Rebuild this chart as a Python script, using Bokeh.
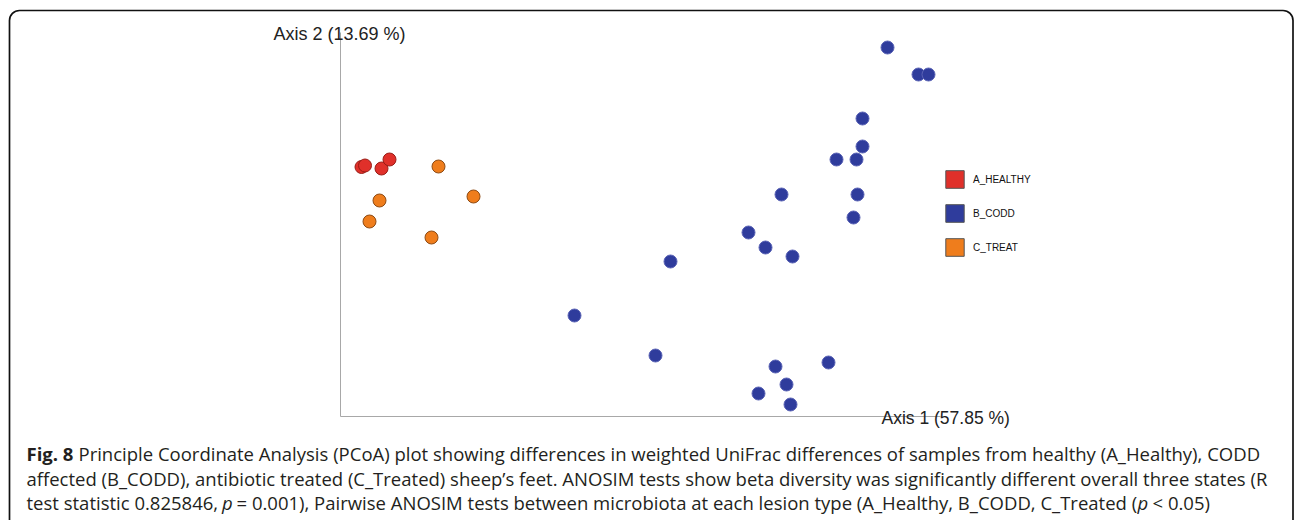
from bokeh.plotting import figure
from bokeh.models import (Range1d, LinearAxis, FixedTicker, Label, BoxAnnotation,
                          Legend, LegendItem)
from bokeh.embed import file_html
from bokeh.resources import INLINE

# ---------------- data (PCoA coordinates) ----------------
groups = ["A_HEALTHY", "B_CODD", "C_TREAT"]
fill_colors = ["#e0302a", "#2f3c9c", "#ef7d1c"]
edge_colors = ["#9a1c16", "#5a63b5", "#8e4a12"]

healthy_ax1 = [-0.279, -0.2755, -0.259, -0.251]
healthy_ax2 = [0.0635, 0.065, 0.062, 0.071]

codd_ax1 = [0.247, 0.278, 0.288, 0.222, 0.222, 0.196, 0.216, 0.141, 0.217, 0.213,
            0.108, 0.125, 0.152, 0.030, -0.066, 0.015, 0.188, 0.135, 0.146, 0.118, 0.150]
codd_ax2 = [0.183, 0.156, 0.156, 0.112, 0.084, 0.071, 0.071, 0.036, 0.036, 0.013,
            -0.002, -0.017, -0.026, -0.031, -0.085, -0.125, -0.132, -0.136, -0.154, -0.163, -0.174]

treat_ax1 = [-0.202, -0.167, -0.261, -0.271, -0.209]
treat_ax2 = [0.064, 0.034, 0.030, 0.009, -0.007]

axis1_label = "Axis 1 (57.85 %)"
axis2_label = "Axis 2 (13.69 %)"

caption_bold = "Fig. 8"
caption_line1 = "Principle Coordinate Analysis (PCoA) plot showing differences in weighted UniFrac differences of samples from healthy (A_Healthy), CODD"
caption_line2 = "affected (B_CODD), antibiotic treated (C_Treated) sheep\u2019s feet. ANOSIM tests show beta diversity was significantly different overall three states (R"
caption_line3 = ["test statistic 0.825846,", "p", "= 0.001), Pairwise ANOSIM tests between microbiota at each lesion type (A_Healthy, B_CODD, C_Treated (", "p", "< 0.05)"]

# ---------------- layout helpers (pixel -> data) ----------------
W, H = 1295, 520
X0, Y0, SCALE = 640.0, 230.0, 1000.0
NAN = float("nan")


def dx(px):
    return (px - X0) / SCALE


def dy(py):
    return (Y0 - py) / SCALE


p = figure(width=W, height=H,
           x_range=Range1d(dx(0), dx(W)), y_range=Range1d(dy(H), dy(0)),
           output_backend="svg", toolbar_location=None,
           x_axis_location=None, y_axis_location=None,
           min_border=0, outline_line_color=None)
p.grid.grid_line_color = None
p.background_fill_color = "white"
p.border_fill_color = "white"

# outer rounded frame
p.add_layout(BoxAnnotation(left=dx(9), right=dx(1292.5), top=dy(10), bottom=dy(560),
                           fill_color=None, fill_alpha=0, line_color="#111111",
                           line_alpha=1, line_width=1.7,
                           border_radius=10, level="overlay"))

# axes (lines only)
ax_left = LinearAxis(fixed_location=dx(340), bounds=(dy(415.5), dy(32)),
                     ticker=FixedTicker(ticks=[]), axis_line_color="#a8a8a8",
                     axis_line_width=1, major_tick_line_color=None,
                     minor_tick_line_color=None)
ax_bottom = LinearAxis(fixed_location=dy(415.5), bounds=(dx(340), dx(940)),
                       ticker=FixedTicker(ticks=[]), axis_line_color="#a8a8a8",
                       axis_line_width=1, major_tick_line_color=None,
                       minor_tick_line_color=None)
p.add_layout(ax_left, "left")
p.add_layout(ax_bottom, "below")

# points
series = [(healthy_ax1, healthy_ax2), (codd_ax1, codd_ax2), (treat_ax1, treat_ax2)]
for (xs, ys), fc, ec in zip(series, fill_colors, edge_colors):
    p.scatter(xs, ys, size=13, fill_color=fc, line_color=ec, line_width=1)

# legend (square swatches; quads hold no drawable data, only their style)
items = []
for g, fc in zip(groups, fill_colors):
    r = p.quad(left=[NAN], right=[NAN], top=[NAN], bottom=[NAN], fill_color=fc,
               line_color="#555555", line_width=1)
    items.append(LegendItem(label=g, renderers=[r]))
legend = Legend(items=items, location=(943, 262), padding=0, margin=0, spacing=12,
                glyph_width=23, glyph_height=22, label_standoff=7, label_height=22,
                border_line_color=None, background_fill_alpha=0,
                label_text_font="Liberation Sans", label_text_font_size="10px",
                label_text_color="#111111")
p.add_layout(legend)

# axis titles
p.add_layout(Label(x=dx(273), y=dy(33), text=axis2_label, text_baseline="middle",
                   text_font="Liberation Sans", text_font_size="18px",
                   text_color="#222222"))
p.add_layout(Label(x=dx(881), y=dy(417), text=axis1_label, text_baseline="middle",
                   text_font="Liberation Sans", text_font_size="17.5px",
                   text_color="#222222"))

# caption
CF = "Open Sans"
CS = "18.5px"
CC = "#231f20"
p.add_layout(Label(x=dx(26), y=dy(453), text=caption_bold, text_baseline="middle",
                   text_font=CF, text_font_size=CS, text_font_style="bold", text_color=CC))
p.add_layout(Label(x=dx(78), y=dy(453), text=caption_line1, text_baseline="middle",
                   text_font=CF, text_font_size=CS, text_color=CC))
p.add_layout(Label(x=dx(26), y=dy(478), text=caption_line2, text_baseline="middle",
                   text_font=CF, text_font_size=CS, text_color=CC))
seg_x = [26, 221.5, 236, 1137, 1152]
for t, sx in zip(caption_line3, seg_x):
    p.add_layout(Label(x=dx(sx), y=dy(502), text=t, text_baseline="middle",
                       text_font=CF, text_font_size=CS, text_color=CC,
                       text_font_style="italic" if t == "p" else "normal"))

open("out.html", "w").write(file_html(p, INLINE))
